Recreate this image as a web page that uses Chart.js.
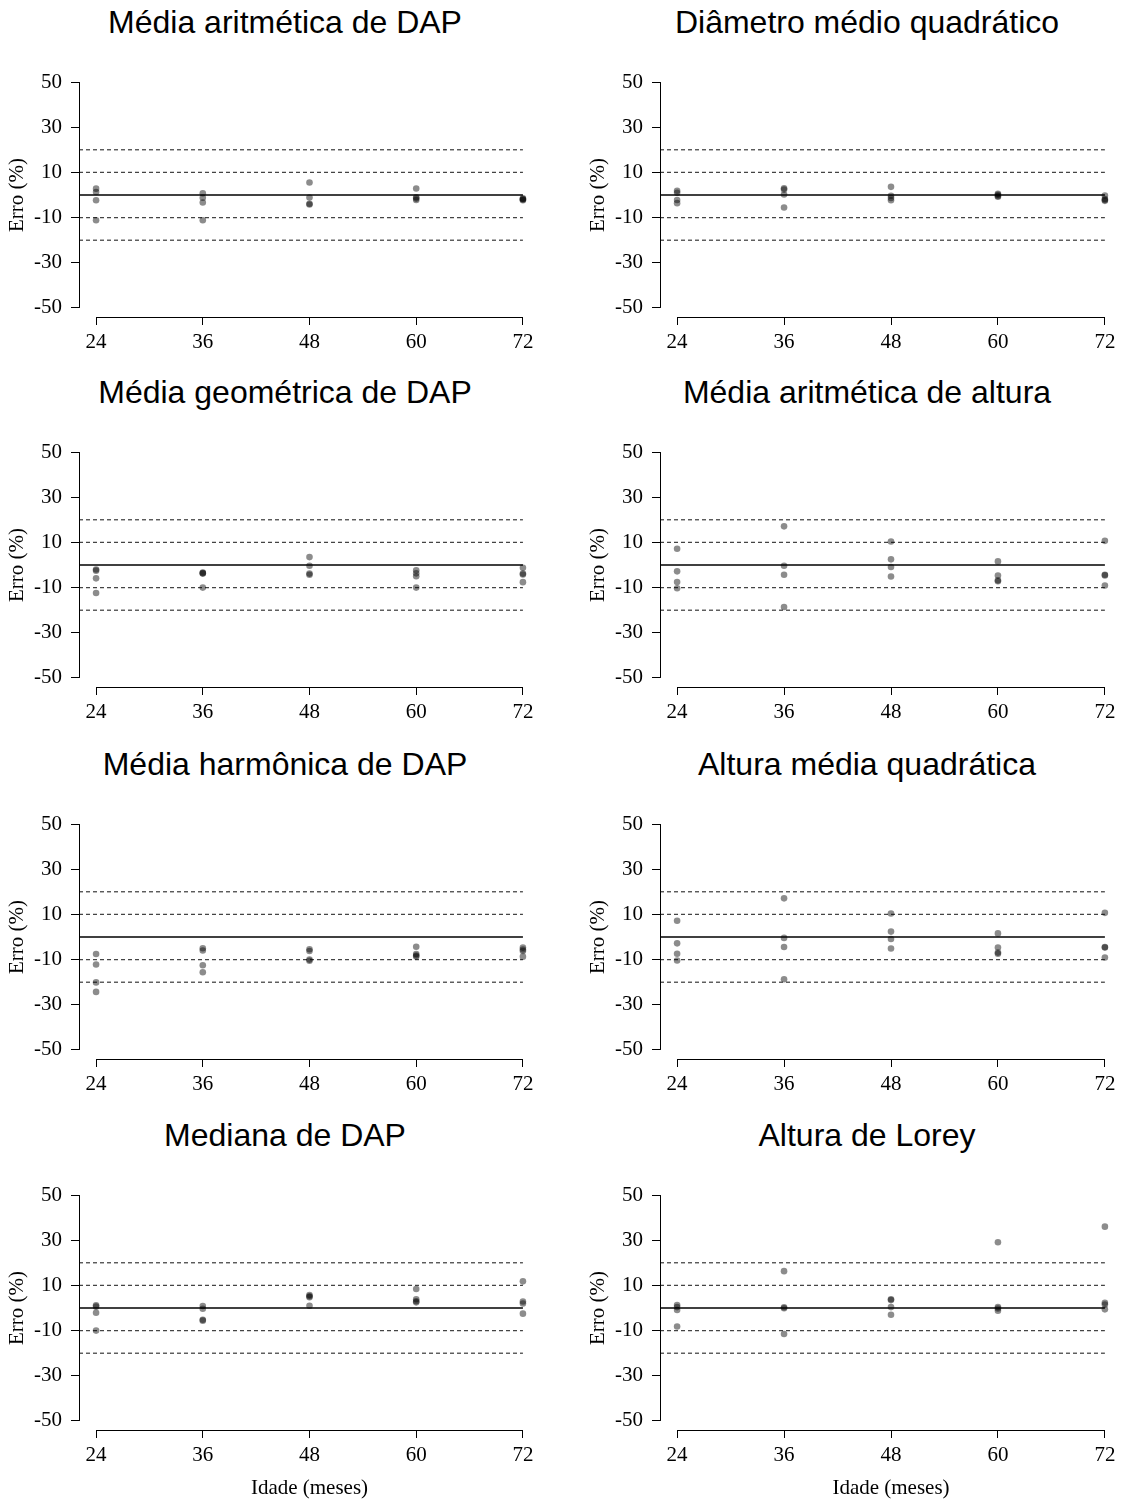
<!DOCTYPE html>
<html>
<head>
<meta charset="utf-8">
<script src="https://cdn.jsdelivr.net/npm/chart.js@4.4.1/dist/chart.umd.min.js"></script>
<style>
  body { margin: 0; background: #fff; width: 1121px; height: 1501px; position: relative; overflow: hidden; }
  .panel { position: absolute; }
  .title { position: absolute; width: 600px; text-align: center; white-space: nowrap;
           font-family: "Liberation Sans", Arial, sans-serif; font-size: 32px; line-height: 32px; color: #000; }
</style>
</head>
<body>
<script>
// ages (months) on the x axis
var ages   = [24, 36, 48, 60, 72];
var yTicks = [-50, -30, -10, 10, 30, 50];

// reference lines
var refSolid = [0];
var refInner = [-10, 10];
var refOuter = [-20, 20];

var titles = [
    'Média aritmética de DAP', 'Diâmetro médio quadrático',
    'Média geométrica de DAP', 'Média aritmética de altura',
    'Média harmônica de DAP',  'Altura média quadrática',
    'Mediana de DAP',          'Altura de Lorey'
];

// error (%) per age, one inner list per age in `ages`
var mediaAritmeticaDap      = [[2.8, 1.3, -2.3, -11.2], [0.8, -1.2, -3.3, -11.2], [5.5, -1.1, -3.9, -4.2], [2.9, -1.0, -1.6, -2.2], [-1.5, -1.8, -2.0, -2.3]];
var diametroMedioQuadratico = [[1.9, 1.0, -2.2, -3.6], [3.0, 2.4, 0.2, -5.5], [3.6, -0.3, -1.3, -2.3], [0.5, 0.1, -0.4, -0.8], [-0.2, -1.8, -2.2, -2.6]];
var mediaGeometricaDap      = [[-2.0, -2.5, -5.9, -12.4], [-3.3, -3.6, -3.8, -10.0], [3.5, -0.3, -3.8, -4.3], [-2.3, -3.7, -5.0, -10.0], [-1.2, -3.8, -4.2, -7.6]];
var mediaAritmeticaAltura   = [[7.2, -2.8, -7.5, -10.3], [17.1, -0.3, -4.3, -18.6], [10.4, 2.5, -0.9, -5.1], [1.6, -4.7, -6.8, -7.2], [10.7, -4.3, -4.6, -9.1]];
var mediaHarmonicaDap       = [[-7.5, -12.2, -20.1, -24.3], [-5.0, -6.0, -12.5, -15.6], [-5.4, -6.2, -10.0, -10.5], [-4.3, -7.5, -8.2, -8.6], [-4.7, -5.5, -6.2, -8.7]];
var alturaMediaQuadratica   = [[7.2, -2.8, -7.4, -10.4], [17.1, -0.4, -4.4, -18.7], [10.4, 2.4, -0.9, -5.1], [1.6, -4.7, -6.9, -7.4], [10.7, -4.4, -4.7, -9.1]];
var medianaDap              = [[1.2, 0.6, -2.1, -10.0], [0.9, -0.3, -5.2, -5.6], [5.7, 5.2, 4.8, 1.0], [8.4, 3.9, 3.0, 2.5], [11.8, 2.9, 2.0, -2.5]];
var alturaLorey             = [[1.3, 0.4, -0.9, -8.2], [16.3, 0.3, -0.1, -11.5], [3.9, 3.5, 0.4, -3.0], [29.1, 0.4, -0.2, -1.2], [36.0, 2.3, 1.5, -0.6]];

var panelData = [mediaAritmeticaDap, diametroMedioQuadratico, mediaGeometricaDap, mediaAritmeticaAltura,
                 mediaHarmonicaDap, alturaMediaQuadratica, medianaDap, alturaLorey];

var colLeft   = [0, 581];
var colWidth  = [560, 545];
var colPadR   = [20, 0];
var colCenter = [285, 867];
var rowTop    = [0, 370, 742, 1113];

var serif = '"Liberation Serif", "Times New Roman", serif';

// R-style padding of 4% around the data range
var xSpan = ages[ages.length - 1] - ages[0];
var xMin = ages[0] - xSpan * 0.04, xMax = ages[ages.length - 1] + xSpan * 0.04;
var ySpan = yTicks[yTicks.length - 1] - yTicks[0];
var yMin = yTicks[0] - ySpan * 0.04, yMax = yTicks[yTicks.length - 1] + ySpan * 0.04;

// axis lines only over the tick range, like R's axis()
var axisLines = {
    id: 'axisLines',
    afterDraw: function (chart) {
        var ctx = chart.ctx, xs = chart.scales.x, ys = chart.scales.y;
        var left = Math.round(chart.chartArea.left) + 0.5;
        var bottom = Math.round(chart.chartArea.bottom) + 0.5;
        ctx.save();
        ctx.strokeStyle = '#000';
        ctx.lineWidth = 1;
        ctx.beginPath();
        ctx.moveTo(left, ys.getPixelForValue(yTicks[0]));
        ctx.lineTo(left, ys.getPixelForValue(yTicks[yTicks.length - 1]));
        ctx.moveTo(xs.getPixelForValue(ages[0]), bottom);
        ctx.lineTo(xs.getPixelForValue(ages[ages.length - 1]), bottom);
        ctx.stroke();
        ctx.restore();
    }
};

function refLine(level, color, dash, width) {
    return {
        type: 'line',
        data: [{ x: xMin, y: level }, { x: ages[ages.length - 1], y: level }],
        borderColor: color,
        borderWidth: width,
        borderDash: dash,
        pointRadius: 0,
        fill: false
    };
}

function makePanel(i) {
    var col = i % 2, row = Math.floor(i / 2);
    var last = row === rowTop.length - 1;
    var h = last ? 1501 - rowTop[row] : 370;

    var t = document.createElement('div');
    t.className = 'title';
    t.style.left = (colCenter[col] - 300) + 'px';
    t.style.top = (rowTop[row] + 6) + 'px';
    t.textContent = titles[i];
    document.body.appendChild(t);

    var box = document.createElement('div');
    box.className = 'panel';
    box.style.left = colLeft[col] + 'px';
    box.style.top = rowTop[row] + 'px';
    box.style.width = colWidth[col] + 'px';
    box.style.height = h + 'px';
    var cv = document.createElement('canvas');
    box.appendChild(cv);
    document.body.appendChild(box);

    var pts = [];
    panelData[i].forEach(function (vals, k) {
        vals.forEach(function (v) { pts.push({ x: ages[k], y: v }); });
    });

    var datasets = [{
        type: 'scatter',
        data: pts,
        backgroundColor: 'rgba(0,0,0,0.45)',
        borderWidth: 0,
        pointRadius: 3.3
    }];
    refSolid.forEach(function (l) { datasets.push(refLine(l, '#000', [], 1.3)); });
    refInner.forEach(function (l) { datasets.push(refLine(l, '#444', [4, 3], 1.2)); });
    refOuter.forEach(function (l) { datasets.push(refLine(l, '#111', [4, 3], 1)); });

    new Chart(cv, {
        type: 'scatter',
        data: { datasets: datasets },
        options: {
            responsive: true,
            maintainAspectRatio: false,
            animation: false,
            events: [],
            layout: { padding: { top: 73, left: 0, right: colPadR[col], bottom: 0 } },
            plugins: { legend: { display: false }, tooltip: { enabled: false } },
            scales: {
                x: {
                    type: 'linear',
                    min: xMin, max: xMax,
                    border: { display: false },
                    grid: { drawOnChartArea: false, drawTicks: true, tickLength: 8, tickColor: '#000', tickWidth: 1 },
                    ticks: { color: '#000', font: { family: serif, size: 21 }, padding: 5, autoSkip: false,
                             maxRotation: 0, callback: function (v) { return String(v); } },
                    afterBuildTicks: function (s) { s.ticks = ages.map(function (v) { return { value: v }; }); },
                    afterFit: function (s) { s.height = h - 317; },
                    title: { display: last, text: 'Idade (meses)', color: '#000',
                             font: { family: serif, size: 21 }, padding: { top: 0, bottom: 0 } }
                },
                y: {
                    type: 'linear',
                    min: yMin, max: yMax,
                    border: { display: false },
                    grid: { drawOnChartArea: false, drawTicks: true, tickLength: 8, tickColor: '#000', tickWidth: 1 },
                    ticks: { color: '#000', font: { family: serif, size: 21 }, padding: 9, autoSkip: false,
                             callback: function (v) { return String(v); } },
                    afterBuildTicks: function (s) { s.ticks = yTicks.map(function (v) { return { value: v }; }); },
                    afterFit: function (s) { s.width = 79; },
                    title: { display: true, text: 'Erro (%)', color: '#000',
                             font: { family: serif, size: 21 }, padding: { top: 5, bottom: 0 } }
                }
            }
        },
        plugins: [axisLines]
    });
}

for (var i = 0; i < panelData.length; i++) makePanel(i);
</script>
</body>
</html>
